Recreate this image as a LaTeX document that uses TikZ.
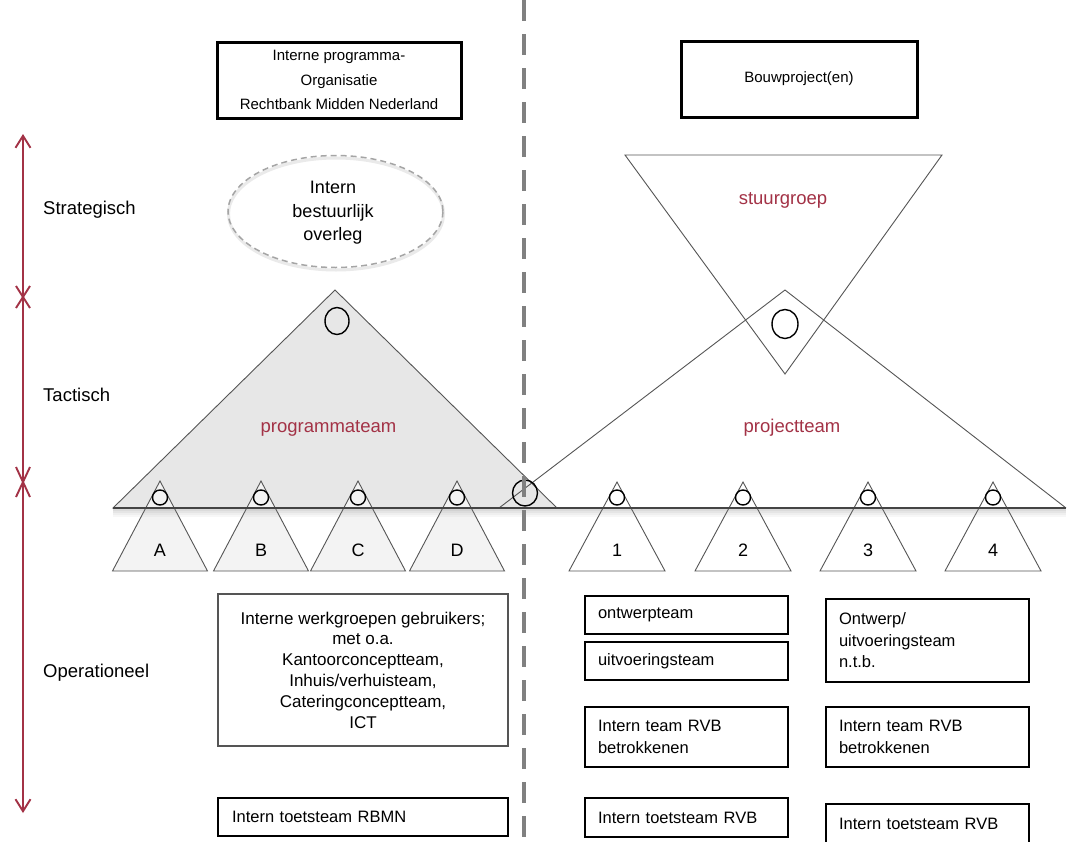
\documentclass[tikz,border=0pt]{standalone}
\usepackage{fontspec}
\setmainfont{Liberation Sans}
\usetikzlibrary{arrows.meta,shapes.geometric}

\definecolor{teamred}{RGB}{163,50,70}
\definecolor{edgegray}{RGB}{85,85,85}
\definecolor{fillgray}{RGB}{231,231,231}
\definecolor{subfill}{RGB}{243,243,243}
\definecolor{dashgray}{RGB}{128,128,128}
\definecolor{ovalgray}{RGB}{165,165,165}

\newcommand{\fsz}[2]{\fontsize{#1}{#2}\selectfont}

\begin{document}
\begin{tikzpicture}[x=1pt,y=-1pt,
  levellabel/.style={anchor=west, inner sep=0pt, font=\fsz{18.5}{22}},
  headbox/.style={draw=black, line width=3pt, inner sep=0pt, align=center, font=\fsz{15}{24.5}},
  teamlabel/.style={text=teamred, inner sep=0pt, font=\fsz{18.5}{22}},
  leftbox/.style={draw=black, line width=1.3pt, inner xsep=13pt, inner ysep=0pt,
    text width=177pt, align=left, minimum width=203pt, font=\fsz{16.5}{21.5}},
  tri/.style={draw=edgegray, line width=0.9pt, line join=miter},
  ring/.style={ellipse, draw=black, line width=1.4pt, inner sep=0pt},
  letter/.style={inner sep=0pt, font=\fsz{18}{20}},
  levelarrow/.style={draw=teamred, line width=1.9pt},
]
\useasboundingbox (0,0) rectangle (1073,841);
\fill[white] (0,0) rectangle (1073,841);

% ---- level axis on the left ----
\coordinate (axTop) at (23,134);
\coordinate (axBot) at (23,813);
\draw[levelarrow, {Straight Barb[length=12pt,width=15pt]}-{Straight Barb[length=12pt,width=15pt]}] (axTop) -- (axBot);
\draw[levelarrow] (16,286) -- (30,308) (16,308) -- (30,286);
\draw[levelarrow] (16,467) -- (30,497) (16,497) -- (30,467);

\node[levellabel] (strat) at (43,210) {Strategisch};
\node[levellabel] (tact) at (43,395) {Tactisch};
\node[levellabel] (oper) at (43,673) {Operationeel};

% ---- header boxes ----
\node[headbox, minimum width=244pt, minimum height=76pt] (hdLeft) at (339,80)
  {Interne programma-\\Organisatie\\Rechtbank Midden Nederland};
\node[headbox, minimum width=236pt, minimum height=76pt] (hdRight) at (799,79)
  {Bouwproject(en)};

% ---- strategic oval ----
\draw[ovalgray!45, line width=3pt, opacity=0.5] (336,214) ellipse [x radius=107.5, y radius=56];
\draw[ovalgray, line width=1.5pt, dash pattern=on 6pt off 4pt] (335.5,211.5) ellipse [x radius=107.5, y radius=56];
\node[inner sep=0pt, align=center, font=\fsz{18}{23.5}] (overleg) at (333,213)
  {Intern\\bestuurlijk\\ overleg};

% ---- programmateam ----
\draw[tri, fill=fillgray] (113,508) -- (335,290) -- (557,508) -- cycle;
\node[teamlabel] (progTeam) at (328.5,428) {programmateam};

% ---- projectteam and stuurgroep ----
\draw[tri] (499,508) -- (785,290) -- (1066,508);
\draw[tri] (625,155) -- (942,155) -- (785,374) -- cycle;
\node[teamlabel] (projTeam) at (792,428) {projectteam};
\node[teamlabel] (stuur) at (783,200) {stuurgroep};

% ---- sub-teams below the base line ----
\foreach \cx/\nm/\lab in {160/A/A, 261/B/B, 358/C/C, 457/D/D}{
  \draw[tri, fill=subfill] (\cx-47.5,571) -- (\cx,481) -- (\cx+47.5,571) -- cycle;
  \node[letter] (lab\nm) at (\cx,550) {\lab};
}
\foreach \cx/\nm in {617/1, 743/2, 868/3, 993/4}{
  \draw[tri, fill=white] (\cx-48,571) -- (\cx,482) -- (\cx+48,571) -- cycle;
  \node[letter] (lab\nm) at (\cx,550) {\nm};
}

% base line with its soft shadow
\foreach \dy/\op in {2/0.28, 4/0.2, 6/0.12, 8/0.06}{
  \draw[gray, line width=2pt, opacity=\op] (113,508+\dy) -- (1066,508+\dy);
}
\draw[edgegray!80!black, line width=1.2pt] (113,508) -- (1066,508);

% ---- team leaders ----
\node[ring, minimum width=24pt, minimum height=27pt] (progLead) at (337,321) {};
\node[ring, minimum width=26pt, minimum height=29pt] (stuurLead) at (785,324) {};
\node[ring, minimum width=25pt, minimum height=26pt] (linkLead) at (525,493) {};
\foreach \cx/\nm in {160/A, 261/B, 358/C, 457/D, 617/1, 743/2, 868/3, 993/4}{
  \node[ring, minimum size=15pt] (lead\nm) at (\cx,497.5) {};
}

% ---- operational boxes ----
\node[draw=edgegray, line width=1.2pt, minimum width=290pt, minimum height=152pt,
  inner sep=0pt, align=center, font=\fsz{17}{20.8}] (werkgroep) at (363,670)
  {Interne werkgroepen gebruikers;\\met o.a.\\Kantoorconceptteam,\\Inhuis/verhuisteam,\\Cateringconceptteam,\\ICT};
\node[draw=black, line width=1.4pt, minimum width=290pt, minimum height=38pt,
  inner xsep=14pt, inner ysep=0pt, text width=262pt, align=left, font=\fsz{16.5}{21.5}] (toetsRBMN) at (363,817)
  {Intern toetsteam RBMN};

\node[leftbox, minimum height=38pt] (ontwerp) at (686.5,615) {ontwerpteam};
\node[leftbox, minimum height=38pt] (uitvoering) at (686.5,661) {uitvoeringsteam};
\node[leftbox, minimum height=60pt] (rvbLeft) at (686.5,737) {Intern team RVB\\betrokkenen};
\node[leftbox, minimum height=39pt] (toetsLeft) at (686.5,817.5) {Intern toetsteam RVB};

\node[leftbox, minimum height=83pt] (ontUit) at (927.5,640.5) {Ontwerp/\\uitvoeringsteam\\n.t.b.};
\node[leftbox, minimum height=60pt] (rvbRight) at (927.5,737) {Intern team RVB\\betrokkenen};
\node[leftbox, minimum height=39pt] (toetsRight) at (927.5,823.5) {Intern toetsteam RVB};

% ---- divider between programme and project side ----
\draw[dashgray, line width=3.2pt, dash pattern=on 21pt off 13pt] (524,0) -- (524,841);
\end{tikzpicture}
\end{document}
